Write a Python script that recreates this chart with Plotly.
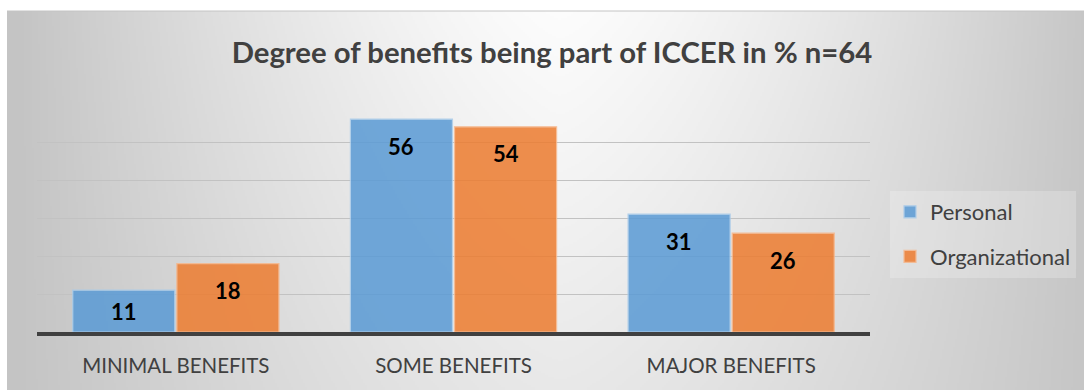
import zlib, struct, base64
import plotly.graph_objects as go

# ---- data ----
categories = ["MINIMAL BENEFITS", "SOME BENEFITS", "MAJOR BENEFITS"]
personal = [11, 56, 31]
organizational = [18, 54, 26]
series_names = ["Personal", "Organizational"]
title_text = "Degree of benefits being part of ICCER in % n=64"

# ---- layout constants ----
W, H = 1084, 390
ML, MR, MT, MB = 37, 214, 104, 58
PW, PH = W - ML - MR, H - MT - MB
BARGAP = 0.25
YMAX = 60
FONT = "Lato, Calibri, sans-serif"


def px_to_paper_x(px):
    return (px - ML) / PW


def px_to_paper_y(py):
    return (H - MB - py) / PH


# ---- background gradient as PNG (grayscale) ----
def bg_png(w, h, x0, y0, x1, y1):
    rows = []
    for j in range(h):
        y = y0 + (y1 - y0) * (j + 0.5) / h
        c = 252 - 20 * (y - y0) / (y1 - y0)
        e = 196
        row = bytearray([0])
        for i in range(w):
            x = x0 + (x1 - x0) * (i + 0.5) / w
            dx = min(abs(x - 560) / 540, 1.0)
            f = 1 - dx ** 1.4
            v = e + (c - e) * f
            row.append(max(0, min(255, int(round(v)))))
        rows.append(bytes(row))
    raw = b"".join(rows)

    def chunk(t, d):
        return struct.pack(">I", len(d)) + t + d + struct.pack(">I", zlib.crc32(t + d) & 0xFFFFFFFF)

    png = (b"\x89PNG\r\n\x1a\n"
           + chunk(b"IHDR", struct.pack(">IIBBBBB", w, h, 8, 0, 0, 0, 0))
           + chunk(b"IDAT", zlib.compress(raw, 9))
           + chunk(b"IEND", b""))
    return "data:image/png;base64," + base64.b64encode(png).decode()


BX0, BY0, BX1, BY1 = 7, 11, W, H
bg_src = bg_png(540, 190, BX0, BY0, BX1, BY1)

BLUE = "#5B9BD5"
ORANGE = "#ED7D31"

fig = go.Figure()
fig.add_trace(go.Bar(
    name=series_names[0], x=categories, y=personal,
    marker=dict(color=BLUE, line=dict(color="#A9CBEA", width=1.2)),
    opacity=0.86, legendgroup="a",
))
fig.add_trace(go.Bar(
    name=series_names[1], x=categories, y=organizational,
    marker=dict(color=ORANGE, line=dict(color="#F6B68A", width=1.2)),
    opacity=0.86, legendgroup="b",
))

# data labels near the top inside each bar
off = (1 - BARGAP) / 4
label_drop = 27 * YMAX / PH
for k, vals in enumerate([personal, organizational]):
    sign = -1 if k == 0 else 1
    for i, v in enumerate(vals):
        fig.add_annotation(
            x=i + sign * off, y=max(v - label_drop, v / 2), xref="x", yref="y",
            text=str(v), showarrow=False, yanchor="middle",
            font=dict(family=FONT, size=22, color="#000000", weight="bold"),
        )

fig.add_layout_image(dict(
    source=bg_src, xref="paper", yref="paper",
    x=px_to_paper_x(BX0), y=px_to_paper_y(BY0),
    sizex=(BX1 - BX0) / PW, sizey=(BY1 - BY0) / PH,
    xanchor="left", yanchor="top", sizing="stretch", layer="below",
))
fig.add_shape(type="line", xref="paper", yref="paper",
              x0=px_to_paper_x(BX0), x1=px_to_paper_x(BX1),
              y0=px_to_paper_y(BY0), y1=px_to_paper_y(BY0),
              line=dict(color="#c4c4c4", width=1), layer="below")

fig.update_layout(
    width=W, height=H,
    margin=dict(l=ML, r=MR, t=MT, b=MB, pad=0, autoexpand=False),
    paper_bgcolor="white", plot_bgcolor="rgba(0,0,0,0)",
    barmode="group", bargap=BARGAP, bargroupgap=0.02,
    font=dict(family=FONT, color="#404040"),
    title=dict(
        text=title_text, xref="container", yref="container",
        x=552 / W, y=1 - 53 / H, xanchor="center", yanchor="middle",
        font=dict(family=FONT, size=29.3, color="#404040", weight="bold"),
    ),
    legend=dict(
        x=px_to_paper_x(890), y=px_to_paper_y(191), xanchor="left", yanchor="top",
        bgcolor="rgba(255,255,255,0.22)", tracegroupgap=13,
        font=dict(family=FONT, size=22, color="#404040"),
        itemclick=False,
    ),
    showlegend=True,
)
fig.update_xaxes(
    showline=True, linecolor="#404040", linewidth=4, ticks="",
    tickfont=dict(family=FONT, size=20.5, color="#404040"),
    ticklabelstandoff=12, showgrid=False,
)
fig.update_yaxes(
    range=[0, YMAX], dtick=10, showticklabels=False, showgrid=True,
    gridcolor="#c2c2c2", gridwidth=1, zeroline=False,
)

fig.write_html("out.html", config={"displayModeBar": False},
               post_script="document.body.style.margin='0';document.body.style.padding='0';")
